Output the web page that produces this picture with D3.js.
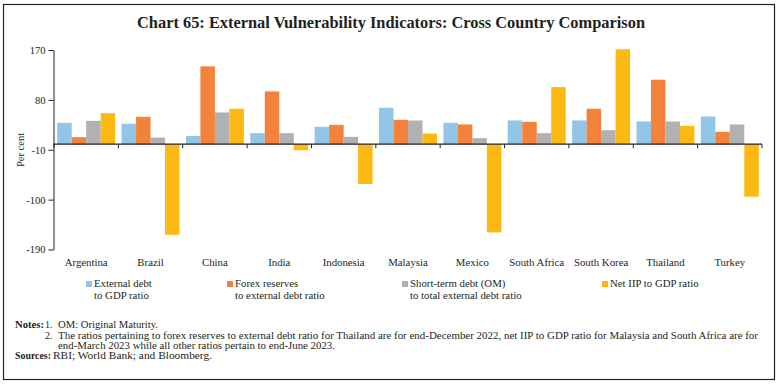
<!DOCTYPE html>
<html><head><meta charset="utf-8">
<script src="https://cdn.jsdelivr.net/npm/d3@7"></script>
<style>body{margin:0;background:#fff}svg{display:block}text{font-family:"Liberation Serif","DejaVu Serif",serif;fill:#231f20}</style>
</head><body><svg id="c" width="784" height="384"></svg>
<script>
const countries = ["Argentina","Brazil","China","India","Indonesia","Malaysia","Mexico","South Africa","South Korea","Thailand","Turkey"];
const extDebtGDP   = [38.6, 36.8, 15, 20, 31.4, 65.7, 38.6, 42.8, 42.8, 41, 50];
const forexExtDebt = [12.7, 49.5, 140.5, 95.3, 35, 44, 35.6, 40.4, 64, 116.4, 22.3];
const shortTermExt = [42.2, 12, 57.3, 20, 13.3, 42.8, 10.9, 19.9, 25.3, 41, 35.6];
const netIIPGDP    = [56, -163.5, 64, -10.9, -71.8, 19.3, -159.2, 103, 171.3, 33.2, -94.7];
const seriesNames = [["External debt","to GDP ratio"],["Forex reserves","to external debt ratio"],["Short-term debt (OM)","to total external debt ratio"],["Net IIP to GDP ratio"]];
const seriesColors = ["#92c5e6","#f3823a","#b1b1b1","#fdb913"];
const yTicks = [170, 80, -10, -100, -190];
const series = [extDebtGDP, forexExtDebt, shortTermExt, netIIPGDP];

const svg = d3.select("#c");
svg.append("rect").attr("x",3.5).attr("y",4.5).attr("width",771).attr("height",375).attr("fill","none").attr("stroke","#222").attr("stroke-width",1.2);

svg.append("text").attr("x",391).attr("y",28).attr("text-anchor","middle").attr("font-size",17).attr("font-weight","bold")
  .attr("textLength",508).attr("lengthAdjust","spacingAndGlyphs")
  .text("Chart 65: External Vulnerability Indicators: Cross Country Comparison");

const y = d3.scaleLinear().domain([-190,170]).range([249.5,50]);
const x0 = d3.scaleBand().domain(countries).range([54,762]).paddingInner(0.1).paddingOuter(0.05);
const x1 = d3.scaleBand().domain(d3.range(4)).range([0,x0.bandwidth()]);

// bars
const g = svg.append("g");
countries.forEach((c,i)=>{
  series.forEach((s,k)=>{
    const v = s[i];
    g.append("rect").attr("x",x0(c)+x1(k)).attr("width",x1.bandwidth())
      .attr("y",y(Math.max(0,v))).attr("height",Math.abs(y(v)-y(0)))
      .attr("fill",seriesColors[k]);
  });
});

// y axis
const yAxis = d3.axisLeft(y).tickValues(yTicks).tickSize(5).tickSizeOuter(0).tickFormat(d=>d);
const ya = svg.append("g").attr("transform","translate(53.5,0)").call(yAxis);
ya.selectAll("path,line").attr("stroke","#231f20");
ya.selectAll("text").attr("font-size",10.5).attr("font-family","Liberation Serif").attr("fill","#231f20").attr("x",-8);

svg.append("text").attr("transform","translate(24,150) rotate(-90)").attr("text-anchor","middle").attr("font-size",10.5).text("Per cent");

// x axis at zero
const step = x0.step();
const bounds = d3.range(countries.length+1).map(i=>54 + i*step);
svg.append("line").attr("x1",53.5).attr("x2",762).attr("y1",y(0)).attr("y2",y(0)).attr("stroke","#231f20").attr("stroke-width",1.2);
svg.selectAll(".xt").data(bounds).enter().append("line").attr("x1",d=>d).attr("x2",d=>d).attr("y1",y(0)).attr("y2",y(0)+4).attr("stroke","#231f20");

svg.selectAll(".cl").data(countries).enter().append("text")
  .attr("x",d=>x0(d)+x0.bandwidth()/2).attr("y",266).attr("text-anchor","middle").attr("font-size",10.8).text(d=>d);

// legend
const legX = [86, 227, 402, 602];
seriesNames.forEach((lines,k)=>{
  svg.append("rect").attr("x",legX[k]).attr("y",281).attr("width",6).attr("height",6).attr("fill",seriesColors[k]);
  lines.forEach((t,j)=>{
    svg.append("text").attr("x",legX[k]+8).attr("y",287+j*12).attr("font-size",10.8).text(t);
  });
});

// notes
const nf = 10;
function note(x, yy, txt, len, bold){
  const t = svg.append("text").attr("x",x).attr("y",yy).attr("font-size",nf).text(txt);
  if (len) t.attr("textLength",len).attr("lengthAdjust","spacingAndGlyphs");
  if (bold) t.attr("font-weight","bold");
  return t;
}
note(15,328,"Notes:",29,true);
note(45,328,"1.");
note(58,328,"OM: Original Maturity.",100);
note(45,338.5,"2.");
note(58,338.5,"The ratios pertaining to forex reserves to external debt ratio for Thailand are for end-December 2022, net IIP to GDP ratio for Malaysia and South Africa are for",700);
note(58,349,"end-March 2023 while all other ratios pertain to end-June 2023.",277);
note(15,358.5,"Sources:",36,true);
note(53,358.5,"RBI; World Bank; and Bloomberg.",159);
</script></body></html>
